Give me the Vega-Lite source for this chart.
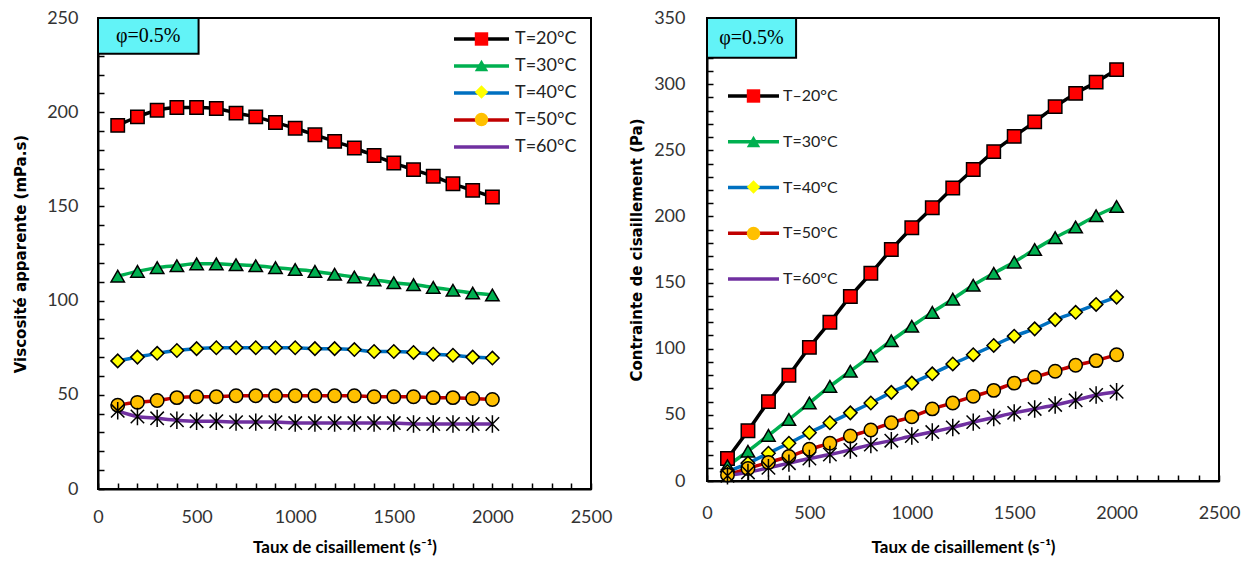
{
  "$schema": "https://vega.github.io/schema/vega-lite/v6.json",
  "padding": {"left": 12, "top": 8, "right": 5, "bottom": 5},
  "spacing": 15,
  "config": {
    "view": {"stroke": "#000", "strokeWidth": 2},
    "font": "Lato",
    "axis": {"domainColor": "#000", "domainWidth": 2, "tickColor": "#000", "tickWidth": 1.5, "tickSize": -6, "grid": false, "labelFont": "Lato", "labelFontSize": 18, "labelColor": "#333", "labelOverlap": false, "labelFlush": false, "labelBound": false, "titleColor": "#000", "format": "d"}
  },
  "datasets": {
    "visc": [
      {"x":100,"T":"T=20°C","v":193},{"x":200,"T":"T=20°C","v":197.5},{"x":300,"T":"T=20°C","v":201},{"x":400,"T":"T=20°C","v":202.5},{"x":500,"T":"T=20°C","v":202.5},{"x":600,"T":"T=20°C","v":202},{"x":700,"T":"T=20°C","v":199.5},{"x":800,"T":"T=20°C","v":197.5},{"x":900,"T":"T=20°C","v":194.5},{"x":1000,"T":"T=20°C","v":191.5},{"x":1100,"T":"T=20°C","v":188},{"x":1200,"T":"T=20°C","v":184.5},{"x":1300,"T":"T=20°C","v":181},{"x":1400,"T":"T=20°C","v":177},{"x":1500,"T":"T=20°C","v":173},{"x":1600,"T":"T=20°C","v":169.5},{"x":1700,"T":"T=20°C","v":166},{"x":1800,"T":"T=20°C","v":162},{"x":1900,"T":"T=20°C","v":158.5},{"x":2000,"T":"T=20°C","v":155},
      {"x":100,"T":"T=30°C","v":113},{"x":200,"T":"T=30°C","v":115.5},{"x":300,"T":"T=30°C","v":117.5},{"x":400,"T":"T=30°C","v":118.5},{"x":500,"T":"T=30°C","v":119.5},{"x":600,"T":"T=30°C","v":119.5},{"x":700,"T":"T=30°C","v":119},{"x":800,"T":"T=30°C","v":118.5},{"x":900,"T":"T=30°C","v":117.5},{"x":1000,"T":"T=30°C","v":116.5},{"x":1100,"T":"T=30°C","v":115.5},{"x":1200,"T":"T=30°C","v":114},{"x":1300,"T":"T=30°C","v":112.5},{"x":1400,"T":"T=30°C","v":111},{"x":1500,"T":"T=30°C","v":109.5},{"x":1600,"T":"T=30°C","v":108.5},{"x":1700,"T":"T=30°C","v":107},{"x":1800,"T":"T=30°C","v":105.5},{"x":1900,"T":"T=30°C","v":104},{"x":2000,"T":"T=30°C","v":103},
      {"x":100,"T":"T=40°C","v":68},{"x":200,"T":"T=40°C","v":70},{"x":300,"T":"T=40°C","v":72},{"x":400,"T":"T=40°C","v":73.5},{"x":500,"T":"T=40°C","v":74.5},{"x":600,"T":"T=40°C","v":75},{"x":700,"T":"T=40°C","v":75},{"x":800,"T":"T=40°C","v":75},{"x":900,"T":"T=40°C","v":75},{"x":1000,"T":"T=40°C","v":75},{"x":1100,"T":"T=40°C","v":74.5},{"x":1200,"T":"T=40°C","v":74.5},{"x":1300,"T":"T=40°C","v":74},{"x":1400,"T":"T=40°C","v":73},{"x":1500,"T":"T=40°C","v":73},{"x":1600,"T":"T=40°C","v":72.5},{"x":1700,"T":"T=40°C","v":71.5},{"x":1800,"T":"T=40°C","v":71},{"x":1900,"T":"T=40°C","v":70},{"x":2000,"T":"T=40°C","v":69.5},
      {"x":100,"T":"T=50°C","v":44.5},{"x":200,"T":"T=50°C","v":46},{"x":300,"T":"T=50°C","v":47},{"x":400,"T":"T=50°C","v":48.5},{"x":500,"T":"T=50°C","v":49},{"x":600,"T":"T=50°C","v":49},{"x":700,"T":"T=50°C","v":49.5},{"x":800,"T":"T=50°C","v":49.5},{"x":900,"T":"T=50°C","v":49.5},{"x":1000,"T":"T=50°C","v":49.5},{"x":1100,"T":"T=50°C","v":49.5},{"x":1200,"T":"T=50°C","v":49.5},{"x":1300,"T":"T=50°C","v":49.5},{"x":1400,"T":"T=50°C","v":49},{"x":1500,"T":"T=50°C","v":49},{"x":1600,"T":"T=50°C","v":49},{"x":1700,"T":"T=50°C","v":48.5},{"x":1800,"T":"T=50°C","v":48.5},{"x":1900,"T":"T=50°C","v":48},{"x":2000,"T":"T=50°C","v":47.5},
      {"x":100,"T":"T=60°C","v":41.5},{"x":200,"T":"T=60°C","v":38.5},{"x":300,"T":"T=60°C","v":37.5},{"x":400,"T":"T=60°C","v":36.5},{"x":500,"T":"T=60°C","v":36},{"x":600,"T":"T=60°C","v":36},{"x":700,"T":"T=60°C","v":35.5},{"x":800,"T":"T=60°C","v":35.5},{"x":900,"T":"T=60°C","v":35.5},{"x":1000,"T":"T=60°C","v":35},{"x":1100,"T":"T=60°C","v":35},{"x":1200,"T":"T=60°C","v":35},{"x":1300,"T":"T=60°C","v":35},{"x":1400,"T":"T=60°C","v":35},{"x":1500,"T":"T=60°C","v":35},{"x":1600,"T":"T=60°C","v":34.5},{"x":1700,"T":"T=60°C","v":34.5},{"x":1800,"T":"T=60°C","v":34.5},{"x":1900,"T":"T=60°C","v":34.5},{"x":2000,"T":"T=60°C","v":34.5}
    ],
    "stress": [
      {"x":100,"T":"T=20°C","v":17},{"x":200,"T":"T=20°C","v":38},{"x":300,"T":"T=20°C","v":60},{"x":400,"T":"T=20°C","v":80},{"x":500,"T":"T=20°C","v":101},{"x":600,"T":"T=20°C","v":120},{"x":700,"T":"T=20°C","v":139.5},{"x":800,"T":"T=20°C","v":157},{"x":900,"T":"T=20°C","v":175},{"x":1000,"T":"T=20°C","v":191.5},{"x":1100,"T":"T=20°C","v":206.5},{"x":1200,"T":"T=20°C","v":221.5},{"x":1300,"T":"T=20°C","v":235.5},{"x":1400,"T":"T=20°C","v":249},{"x":1500,"T":"T=20°C","v":260.5},{"x":1600,"T":"T=20°C","v":271.5},{"x":1700,"T":"T=20°C","v":283},{"x":1800,"T":"T=20°C","v":293},{"x":1900,"T":"T=20°C","v":301.5},{"x":2000,"T":"T=20°C","v":311},
      {"x":100,"T":"T=30°C","v":11.5},{"x":200,"T":"T=30°C","v":22.5},{"x":300,"T":"T=30°C","v":34.5},{"x":400,"T":"T=30°C","v":46.5},{"x":500,"T":"T=30°C","v":59},{"x":600,"T":"T=30°C","v":71.5},{"x":700,"T":"T=30°C","v":83},{"x":800,"T":"T=30°C","v":94.5},{"x":900,"T":"T=30°C","v":106},{"x":1000,"T":"T=30°C","v":117},{"x":1100,"T":"T=30°C","v":127.5},{"x":1200,"T":"T=30°C","v":137.5},{"x":1300,"T":"T=30°C","v":148},{"x":1400,"T":"T=30°C","v":157},{"x":1500,"T":"T=30°C","v":165.5},{"x":1600,"T":"T=30°C","v":175},{"x":1700,"T":"T=30°C","v":184},{"x":1800,"T":"T=30°C","v":192},{"x":1900,"T":"T=30°C","v":200.5},{"x":2000,"T":"T=30°C","v":207.5},
      {"x":100,"T":"T=40°C","v":7},{"x":200,"T":"T=40°C","v":13.5},{"x":300,"T":"T=40°C","v":21},{"x":400,"T":"T=40°C","v":28.5},{"x":500,"T":"T=40°C","v":36.5},{"x":600,"T":"T=40°C","v":44},{"x":700,"T":"T=40°C","v":51.5},{"x":800,"T":"T=40°C","v":59},{"x":900,"T":"T=40°C","v":67},{"x":1000,"T":"T=40°C","v":74},{"x":1100,"T":"T=40°C","v":81},{"x":1200,"T":"T=40°C","v":88.5},{"x":1300,"T":"T=40°C","v":95.5},{"x":1400,"T":"T=40°C","v":102.5},{"x":1500,"T":"T=40°C","v":109.5},{"x":1600,"T":"T=40°C","v":115},{"x":1700,"T":"T=40°C","v":122},{"x":1800,"T":"T=40°C","v":127.5},{"x":1900,"T":"T=40°C","v":133.5},{"x":2000,"T":"T=40°C","v":139},
      {"x":100,"T":"T=50°C","v":4.5},{"x":200,"T":"T=50°C","v":9.5},{"x":300,"T":"T=50°C","v":14},{"x":400,"T":"T=50°C","v":18.5},{"x":500,"T":"T=50°C","v":24},{"x":600,"T":"T=50°C","v":28.5},{"x":700,"T":"T=50°C","v":34},{"x":800,"T":"T=50°C","v":38.5},{"x":900,"T":"T=50°C","v":44},{"x":1000,"T":"T=50°C","v":48.5},{"x":1100,"T":"T=50°C","v":54.5},{"x":1200,"T":"T=50°C","v":59},{"x":1300,"T":"T=50°C","v":64},{"x":1400,"T":"T=50°C","v":68.5},{"x":1500,"T":"T=50°C","v":74},{"x":1600,"T":"T=50°C","v":78.5},{"x":1700,"T":"T=50°C","v":83},{"x":1800,"T":"T=50°C","v":87.5},{"x":1900,"T":"T=50°C","v":91},{"x":2000,"T":"T=50°C","v":95.5},
      {"x":100,"T":"T=60°C","v":4},{"x":200,"T":"T=60°C","v":6.5},{"x":300,"T":"T=60°C","v":10},{"x":400,"T":"T=60°C","v":13.5},{"x":500,"T":"T=60°C","v":17},{"x":600,"T":"T=60°C","v":20},{"x":700,"T":"T=60°C","v":23.5},{"x":800,"T":"T=60°C","v":27.5},{"x":900,"T":"T=60°C","v":30.5},{"x":1000,"T":"T=60°C","v":34},{"x":1100,"T":"T=60°C","v":37},{"x":1200,"T":"T=60°C","v":40.5},{"x":1300,"T":"T=60°C","v":44.5},{"x":1400,"T":"T=60°C","v":48},{"x":1500,"T":"T=60°C","v":51.5},{"x":1600,"T":"T=60°C","v":54.5},{"x":1700,"T":"T=60°C","v":57.5},{"x":1800,"T":"T=60°C","v":61},{"x":1900,"T":"T=60°C","v":65},{"x":2000,"T":"T=60°C","v":67.5}
    ]
  },
  "hconcat": [
    {
      "width": 493,
      "height": 471,
      "layer": [
        {
          "data": {"name": "visc"},
          "mark": {"type": "line", "interpolate": "monotone", "strokeWidth": 3.5},
          "encoding": {
            "x": {"field": "x", "type": "quantitative", "scale": {"domain": [0, 2500], "nice": false},
              "axis": {"title": "Taux de cisaillement (s⁻¹)", "values": [0,100,200,300,400,500,600,700,800,900,1000,1100,1200,1300,1400,1500,1600,1700,1800,1900,2000,2100,2200,2300,2400,2500], "labelExpr": "datum.value % 500 === 0 ? datum.label : ''", "labelPadding": 25, "titlePadding": 13, "titleFont": "Lato", "titleFontSize": 17, "titleFontWeight": "bold"}},
            "y": {"field": "v", "type": "quantitative", "scale": {"domain": [0, 250], "nice": false},
              "axis": {"title": "Viscosité apparente (mPa.s)", "values": [0,10,20,30,40,50,60,70,80,90,100,110,120,130,140,150,160,170,180,190,200,210,220,230,240,250], "labelExpr": "datum.value % 50 === 0 ? datum.label : ''", "labelPadding": 26, "titlePadding": 18, "titleFont": "DejaVu Sans", "titleFontSize": 15, "titleFontWeight": "bold"}},
            "color": {"field": "T", "type": "nominal",
              "scale": {"range": ["#000000", "#00B050", "#0070C0", "#C00000", "#7030A0"]},
              "legend": {"orient": "none", "legendX": 374.5, "legendY": 12, "title": null, "symbolType": "M-5,0H5", "symbolSize": 121, "symbolStrokeWidth": 3.5, "labelFont": "Lato", "labelFontSize": 18, "labelColor": "#222", "labelOffset": 24.5, "rowPadding": 9, "padding": 0}}
          }
        },
        {
          "data": {"name": "visc"},
          "mark": {"type": "point", "filled": true, "size": 180, "stroke": "#000", "strokeWidth": 1.5, "opacity": 1},
          "encoding": {
            "x": {"field": "x", "type": "quantitative",
              "axis": {"title": "Taux de cisaillement (s⁻¹)", "values": [0,100,200,300,400,500,600,700,800,900,1000,1100,1200,1300,1400,1500,1600,1700,1800,1900,2000,2100,2200,2300,2400,2500], "labelExpr": "datum.value % 500 === 0 ? datum.label : ''", "labelPadding": 25, "titlePadding": 13, "titleFont": "Lato", "titleFontSize": 17, "titleFontWeight": "bold"}},
            "y": {"field": "v", "type": "quantitative",
              "axis": {"title": "Viscosité apparente (mPa.s)", "values": [0,10,20,30,40,50,60,70,80,90,100,110,120,130,140,150,160,170,180,190,200,210,220,230,240,250], "labelExpr": "datum.value % 50 === 0 ? datum.label : ''", "labelPadding": 26, "titlePadding": 18, "titleFont": "DejaVu Sans", "titleFontSize": 15, "titleFontWeight": "bold"}},
            "fill": {"field": "T", "type": "nominal",
              "scale": {"domain": ["T=20°C", "T=30°C", "T=40°C", "T=50°C", "T=60°C"], "range": ["#FF0000", "#00B050", "#FFFF00", "#FFC000", "#000000"]},
              "legend": {"orient": "none", "legendX": 374.5, "legendY": 12, "title": null, "symbolSize": 180, "symbolStrokeColor": "#000", "symbolStrokeWidth": 1.5, "labelFont": "Lato", "labelFontSize": 18, "labelExpr": "''", "labelOffset": 24.5, "rowPadding": 7.5, "padding": 0, "zindex": 1}},
            "shape": {"field": "T", "type": "nominal",
              "scale": {"domain": ["T=20°C", "T=30°C", "T=40°C", "T=50°C", "T=60°C"], "range": ["square", "triangle-up", "diamond", "circle", "M-1,-1L1,1M-1,1L1,-1M0,-1.3L0,1.3"]},
              "legend": {"orient": "none", "legendX": 374.5, "legendY": 12, "title": null, "symbolSize": 180, "symbolStrokeColor": "#000", "symbolStrokeWidth": 1.5, "labelFont": "Lato", "labelFontSize": 18, "labelExpr": "''", "labelOffset": 24.5, "rowPadding": 7.5, "padding": 0, "zindex": 1}}
          }
        },
        {
          "data": {"values": [{"label": "φ=0.5%"}]},
          "mark": {"type": "rect", "fill": "#62F3F7", "stroke": "#000", "strokeWidth": 2},
          "encoding": {
            "x": {"datum": 0, "type": "quantitative",
              "axis": {"title": "Taux de cisaillement (s⁻¹)", "values": [0,100,200,300,400,500,600,700,800,900,1000,1100,1200,1300,1400,1500,1600,1700,1800,1900,2000,2100,2200,2300,2400,2500], "labelExpr": "datum.value % 500 === 0 ? datum.label : ''", "labelPadding": 25, "titlePadding": 13, "titleFont": "Lato", "titleFontSize": 17, "titleFontWeight": "bold"}},
            "x2": {"datum": 510},
            "y": {"datum": 250, "type": "quantitative",
              "axis": {"title": "Viscosité apparente (mPa.s)", "values": [0,10,20,30,40,50,60,70,80,90,100,110,120,130,140,150,160,170,180,190,200,210,220,230,240,250], "labelExpr": "datum.value % 50 === 0 ? datum.label : ''", "labelPadding": 26, "titlePadding": 18, "titleFont": "DejaVu Sans", "titleFontSize": 15, "titleFontWeight": "bold"}},
            "y2": {"datum": 231}
          }
        },
        {
          "data": {"values": [{"label": "φ=0.5%"}]},
          "mark": {"type": "text", "font": "Liberation Serif", "fontSize": 20, "color": "#000", "baseline": "middle", "align": "center"},
          "encoding": {
            "x": {"datum": 255, "type": "quantitative",
              "axis": {"title": "Taux de cisaillement (s⁻¹)", "values": [0,100,200,300,400,500,600,700,800,900,1000,1100,1200,1300,1400,1500,1600,1700,1800,1900,2000,2100,2200,2300,2400,2500], "labelExpr": "datum.value % 500 === 0 ? datum.label : ''", "labelPadding": 25, "titlePadding": 13, "titleFont": "Lato", "titleFontSize": 17, "titleFontWeight": "bold"}},
            "y": {"datum": 240.5, "type": "quantitative",
              "axis": {"title": "Viscosité apparente (mPa.s)", "values": [0,10,20,30,40,50,60,70,80,90,100,110,120,130,140,150,160,170,180,190,200,210,220,230,240,250], "labelExpr": "datum.value % 50 === 0 ? datum.label : ''", "labelPadding": 26, "titlePadding": 18, "titleFont": "DejaVu Sans", "titleFontSize": 15, "titleFontWeight": "bold"}},
            "text": {"field": "label"}
          }
        }
      ]
    },
    {
      "width": 512,
      "height": 463,
      "layer": [
        {
          "data": {"name": "stress"},
          "mark": {"type": "line", "interpolate": "monotone", "strokeWidth": 3.5},
          "encoding": {
            "x": {"field": "x", "type": "quantitative", "scale": {"domain": [0, 2500], "nice": false},
              "axis": {"title": "Taux de cisaillement (s⁻¹)", "values": [0,100,200,300,400,500,600,700,800,900,1000,1100,1200,1300,1400,1500,1600,1700,1800,1900,2000,2100,2200,2300,2400,2500], "labelExpr": "datum.value % 500 === 0 ? datum.label : ''", "labelPadding": 29, "titlePadding": 17, "titleFont": "Lato", "titleFontSize": 17, "titleFontWeight": "bold"}},
            "y": {"field": "v", "type": "quantitative", "scale": {"domain": [0, 350], "nice": false},
              "axis": {"title": "Contrainte de cisaillement (Pa)", "values": [0,10,20,30,40,50,60,70,80,90,100,110,120,130,140,150,160,170,180,190,200,210,220,230,240,250,260,270,280,290,300,310,320,330,340,350], "labelExpr": "datum.value % 50 === 0 ? datum.label : ''", "labelPadding": 28, "titlePadding": 9, "titleFont": "DejaVu Sans", "titleFontSize": 15, "titleFontWeight": "bold"}},
            "color": {"field": "T", "type": "nominal",
              "scale": {"range": ["#000000", "#00B050", "#0070C0", "#C00000", "#7030A0"]},
              "legend": {"orient": "none", "legendX": 38.5, "legendY": 70, "title": null, "symbolType": "M-5,0H5", "symbolSize": 104, "symbolStrokeWidth": 3.5, "labelFont": "Lato", "labelFontSize": 16, "labelColor": "#222", "labelOffset": 21.5, "rowPadding": 29.75, "padding": 0, "labelExpr": "datum.label === 'T=20°C' ? 'T–20°C' : datum.label"}}
          }
        },
        {
          "data": {"name": "stress"},
          "mark": {"type": "point", "filled": true, "size": 180, "stroke": "#000", "strokeWidth": 1.5, "opacity": 1},
          "encoding": {
            "x": {"field": "x", "type": "quantitative",
              "axis": {"title": "Taux de cisaillement (s⁻¹)", "values": [0,100,200,300,400,500,600,700,800,900,1000,1100,1200,1300,1400,1500,1600,1700,1800,1900,2000,2100,2200,2300,2400,2500], "labelExpr": "datum.value % 500 === 0 ? datum.label : ''", "labelPadding": 29, "titlePadding": 17, "titleFont": "Lato", "titleFontSize": 17, "titleFontWeight": "bold"}},
            "y": {"field": "v", "type": "quantitative",
              "axis": {"title": "Contrainte de cisaillement (Pa)", "values": [0,10,20,30,40,50,60,70,80,90,100,110,120,130,140,150,160,170,180,190,200,210,220,230,240,250,260,270,280,290,300,310,320,330,340,350], "labelExpr": "datum.value % 50 === 0 ? datum.label : ''", "labelPadding": 28, "titlePadding": 9, "titleFont": "DejaVu Sans", "titleFontSize": 15, "titleFontWeight": "bold"}},
            "fill": {"field": "T", "type": "nominal",
              "scale": {"domain": ["T=20°C", "T=30°C", "T=40°C", "T=50°C", "T=60°C"], "range": ["#FF0000", "#00B050", "#FFFF00", "#FFC000", "#000000"]},
              "legend": {"orient": "none", "legendX": 38.5, "legendY": 70, "title": null, "symbolSize": 180, "symbolStrokeColor": "#000", "symbolStrokeWidth": 1.5, "labelFont": "Lato", "labelFontSize": 16, "labelExpr": "''", "labelOffset": 21.5, "rowPadding": 26.5, "padding": 0, "zindex": 1}},
            "shape": {"field": "T", "type": "nominal",
              "scale": {"domain": ["T=20°C", "T=30°C", "T=40°C", "T=50°C", "T=60°C"], "range": ["square", "triangle-up", "diamond", "circle", "M-1,-1L1,1M-1,1L1,-1M0,-1.3L0,1.3"]},
              "legend": {"orient": "none", "legendX": 38.5, "legendY": 70, "title": null, "symbolSize": 180, "symbolStrokeColor": "#000", "symbolStrokeWidth": 1.5, "labelFont": "Lato", "labelFontSize": 16, "labelExpr": "''", "labelOffset": 21.5, "rowPadding": 26.5, "padding": 0, "zindex": 1}}
          }
        },
        {
          "data": {"values": [{"label": "φ=0.5%"}]},
          "mark": {"type": "rect", "fill": "#62F3F7", "stroke": "#000", "strokeWidth": 2},
          "encoding": {
            "x": {"datum": 0, "type": "quantitative",
              "axis": {"title": "Taux de cisaillement (s⁻¹)", "values": [0,100,200,300,400,500,600,700,800,900,1000,1100,1200,1300,1400,1500,1600,1700,1800,1900,2000,2100,2200,2300,2400,2500], "labelExpr": "datum.value % 500 === 0 ? datum.label : ''", "labelPadding": 29, "titlePadding": 17, "titleFont": "Lato", "titleFontSize": 17, "titleFontWeight": "bold"}},
            "x2": {"datum": 435},
            "y": {"datum": 350, "type": "quantitative",
              "axis": {"title": "Contrainte de cisaillement (Pa)", "values": [0,10,20,30,40,50,60,70,80,90,100,110,120,130,140,150,160,170,180,190,200,210,220,230,240,250,260,270,280,290,300,310,320,330,340,350], "labelExpr": "datum.value % 50 === 0 ? datum.label : ''", "labelPadding": 28, "titlePadding": 9, "titleFont": "DejaVu Sans", "titleFontSize": 15, "titleFontWeight": "bold"}},
            "y2": {"datum": 320}
          }
        },
        {
          "data": {"values": [{"label": "φ=0.5%"}]},
          "mark": {"type": "text", "font": "Liberation Serif", "fontSize": 20, "color": "#000", "baseline": "middle", "align": "center"},
          "encoding": {
            "x": {"datum": 217, "type": "quantitative",
              "axis": {"title": "Taux de cisaillement (s⁻¹)", "values": [0,100,200,300,400,500,600,700,800,900,1000,1100,1200,1300,1400,1500,1600,1700,1800,1900,2000,2100,2200,2300,2400,2500], "labelExpr": "datum.value % 500 === 0 ? datum.label : ''", "labelPadding": 29, "titlePadding": 17, "titleFont": "Lato", "titleFontSize": 17, "titleFontWeight": "bold"}},
            "y": {"datum": 335, "type": "quantitative",
              "axis": {"title": "Contrainte de cisaillement (Pa)", "values": [0,10,20,30,40,50,60,70,80,90,100,110,120,130,140,150,160,170,180,190,200,210,220,230,240,250,260,270,280,290,300,310,320,330,340,350], "labelExpr": "datum.value % 50 === 0 ? datum.label : ''", "labelPadding": 28, "titlePadding": 9, "titleFont": "DejaVu Sans", "titleFontSize": 15, "titleFontWeight": "bold"}},
            "text": {"field": "label"}
          }
        }
      ]
    }
  ],
  "resolve": {"scale": {"color": "independent", "fill": "independent", "shape": "independent"}}
}
